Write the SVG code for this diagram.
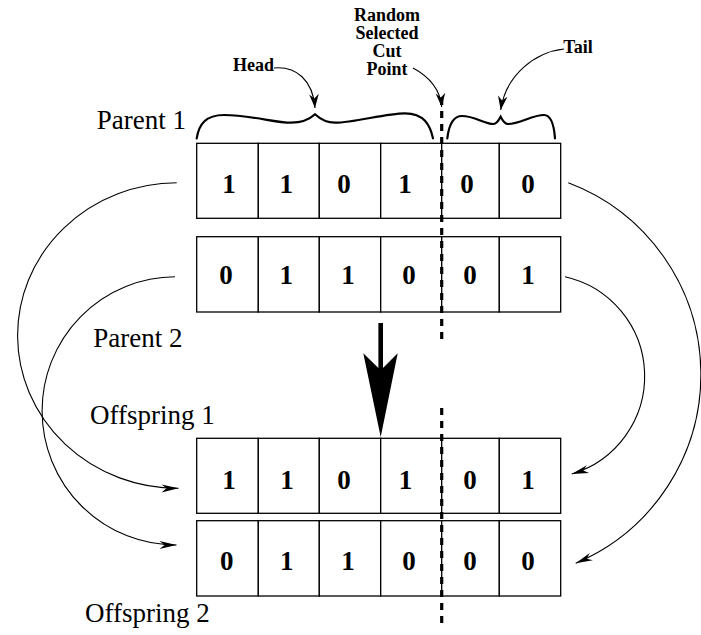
<svg xmlns="http://www.w3.org/2000/svg" width="701" height="635" viewBox="0 0 701 635">
  <style>
    .cell { fill: #ffffff; stroke: #000000; stroke-width: 1.3; }
    .bit { font-family: "Liberation Serif", "Times New Roman", serif; font-size: 27px; font-weight: bold; text-anchor: middle; fill: #000000; }
    .name { font-family: "Liberation Serif", "Times New Roman", serif; font-size: 27px; fill: #000000; }
    .note { font-family: "Liberation Serif", "Times New Roman", serif; font-size: 18px; font-weight: bold; fill: #000000; }
    .brace { fill: none; stroke: #000000; stroke-width: 2.2; stroke-linecap: round; }
    .link { fill: none; stroke: #000000; stroke-width: 1.1; }
    .cut { fill: none; stroke: #000000; stroke-width: 3.2; stroke-dasharray: 7 6; }
  </style>
  <defs>
    <marker id="tipLong" viewBox="-19 -5 21 10" refX="0" refY="0" markerWidth="21" markerHeight="10" markerUnits="userSpaceOnUse" orient="auto">
      <path d="M0,0 L-17,-4 L-12,0 L-17,4 Z" fill="#000000"/>
    </marker>
    <marker id="tipShort" viewBox="-15 -6 17 12" refX="0" refY="0" markerWidth="17" markerHeight="12" markerUnits="userSpaceOnUse" orient="auto">
      <path d="M0,0 L-14,-4.8 L-9.5,0 L-14,4.8 Z" fill="#000000"/>
    </marker>
  </defs>
  <rect width="701" height="635" fill="#ffffff"/>

  <!-- Parent 1 chromosome -->
  <g id="parent1">
    <rect class="cell" x="196.7" y="143.3" width="61.6" height="75"/>
    <rect class="cell" x="258.3" y="143.3" width="61" height="75"/>
    <rect class="cell" x="319.3" y="143.3" width="61.4" height="75"/>
    <rect class="cell" x="380.7" y="143.3" width="61" height="75"/>
    <rect class="cell" x="441.7" y="143.3" width="57.6" height="75"/>
    <rect class="cell" x="499.3" y="143.3" width="61.4" height="75"/>
    <text class="bit" x="229" y="193.3">1</text>
    <text class="bit" x="286.3" y="193.3">1</text>
    <text class="bit" x="344" y="193.3">0</text>
    <text class="bit" x="405" y="193.3">1</text>
    <text class="bit" x="467" y="193.3">0</text>
    <text class="bit" x="528" y="193.3">0</text>
  </g>

  <!-- Parent 2 chromosome -->
  <g id="parent2">
    <rect class="cell" x="196.7" y="236.7" width="61.6" height="75.3"/>
    <rect class="cell" x="258.3" y="236.7" width="61" height="75.3"/>
    <rect class="cell" x="319.3" y="236.7" width="61.4" height="75.3"/>
    <rect class="cell" x="380.7" y="236.7" width="61" height="75.3"/>
    <rect class="cell" x="441.7" y="236.7" width="57.6" height="75.3"/>
    <rect class="cell" x="499.3" y="236.7" width="61.4" height="75.3"/>
    <text class="bit" x="226" y="284">0</text>
    <text class="bit" x="286.3" y="284">1</text>
    <text class="bit" x="348" y="284">1</text>
    <text class="bit" x="409" y="284">0</text>
    <text class="bit" x="470" y="284">0</text>
    <text class="bit" x="528" y="284">1</text>
  </g>

  <!-- Offspring 1 chromosome -->
  <g id="offspring1">
    <rect class="cell" x="196.7" y="438.3" width="61.6" height="75"/>
    <rect class="cell" x="258.3" y="438.3" width="61" height="75"/>
    <rect class="cell" x="319.3" y="438.3" width="61.4" height="75"/>
    <rect class="cell" x="380.7" y="438.3" width="61" height="75"/>
    <rect class="cell" x="441.7" y="438.3" width="57.6" height="75"/>
    <rect class="cell" x="499.3" y="438.3" width="61.4" height="75"/>
    <text class="bit" x="229" y="489.3">1</text>
    <text class="bit" x="287" y="489.3">1</text>
    <text class="bit" x="344" y="489.3">0</text>
    <text class="bit" x="405.5" y="489.3">1</text>
    <text class="bit" x="470" y="489.3">0</text>
    <text class="bit" x="528" y="489.3">1</text>
  </g>

  <!-- Offspring 2 chromosome -->
  <g id="offspring2">
    <rect class="cell" x="196.7" y="520.7" width="61.6" height="75.3"/>
    <rect class="cell" x="258.3" y="520.7" width="61" height="75.3"/>
    <rect class="cell" x="319.3" y="520.7" width="61.4" height="75.3"/>
    <rect class="cell" x="380.7" y="520.7" width="61" height="75.3"/>
    <rect class="cell" x="441.7" y="520.7" width="57.6" height="75.3"/>
    <rect class="cell" x="499.3" y="520.7" width="61.4" height="75.3"/>
    <text class="bit" x="226.7" y="570">0</text>
    <text class="bit" x="286.7" y="570">1</text>
    <text class="bit" x="348" y="570">1</text>
    <text class="bit" x="409" y="570">0</text>
    <text class="bit" x="470" y="570">0</text>
    <text class="bit" x="528" y="570">0</text>
  </g>

  <!-- Row names -->
  <g id="names">
    <text class="name" x="96.7" y="129.3">Parent 1</text>
    <text class="name" x="93.3" y="347">Parent 2</text>
    <text class="name" x="90" y="424">Offspring 1</text>
    <text class="name" x="85" y="622">Offspring 2</text>
  </g>

  <!-- Head / tail braces -->
  <g id="head-brace">
    <path class="brace" d="M196.7,138.3 C199,124 206,115 224,115 C250,115 275,122.7 291,122.7 C304,122.7 311,118 315,114.3 C319,118 325,122.7 335,122.7 C355,122.7 385,113.3 405,113.3 C424,113.3 430,125 433,138.3"/>
    <text class="note" x="233" y="71">Head</text>
  </g>
  <g id="tail-brace">
    <path class="brace" d="M447.3,138.3 C449,124 453,116 462,116 C475,116 484,124 493.5,124 C497,124 499,120 500.7,116.7 C502.5,120 504,124 508,124 C520,124 532,115 544,115 C551,115 554,125 555,138.3"/>
    <text class="note" x="563.3" y="52.7">Tail</text>
  </g>
  <g id="cut-label">
    <text class="note" text-anchor="middle" x="387" y="20.5">Random</text>
    <text class="note" text-anchor="middle" x="387" y="38.8">Selected</text>
    <text class="note" text-anchor="middle" x="387" y="57">Cut</text>
    <text class="note" text-anchor="middle" x="387" y="75.3">Point</text>
  </g>

  <!-- Cut position line -->
  <g id="cut-line">
    <path class="cut" d="M441.7,98 V339"/>
    <path class="cut" d="M441.7,408 V628"/>
  </g>

  <!-- Connectors -->
  <g id="connectors">
    <path class="link" d="M274,68 C296,66 313,80 315,108" marker-end="url(#tipShort)"/>
    <path class="link" d="M413,68 C428,76 440,88 441.7,107" marker-end="url(#tipShort)"/>
    <path class="link" d="M564,49 C536,52 506,74 500.7,110" marker-end="url(#tipShort)"/>

    <path class="link" d="M176.7,182.7 A160,152.8 0 0 0 178.5,488.3" marker-end="url(#tipLong)"/>
    <path class="link" d="M175,276.7 A133.5,134 0 0 0 176.5,545" marker-end="url(#tipLong)"/>
    <path class="link" d="M568.3,182.7 A205,205 0 0 1 575.7,563.3" marker-end="url(#tipLong)"/>
    <path class="link" d="M565,276.7 A102,102 0 0 1 571.7,474" marker-end="url(#tipLong)"/>

    <!-- crossover arrow -->
    <path d="M378.4,323 H383 V368 L397.7,353.3 L380.7,437 L363.3,353.3 L378.4,368 Z" fill="#000000"/>
  </g>
</svg>
